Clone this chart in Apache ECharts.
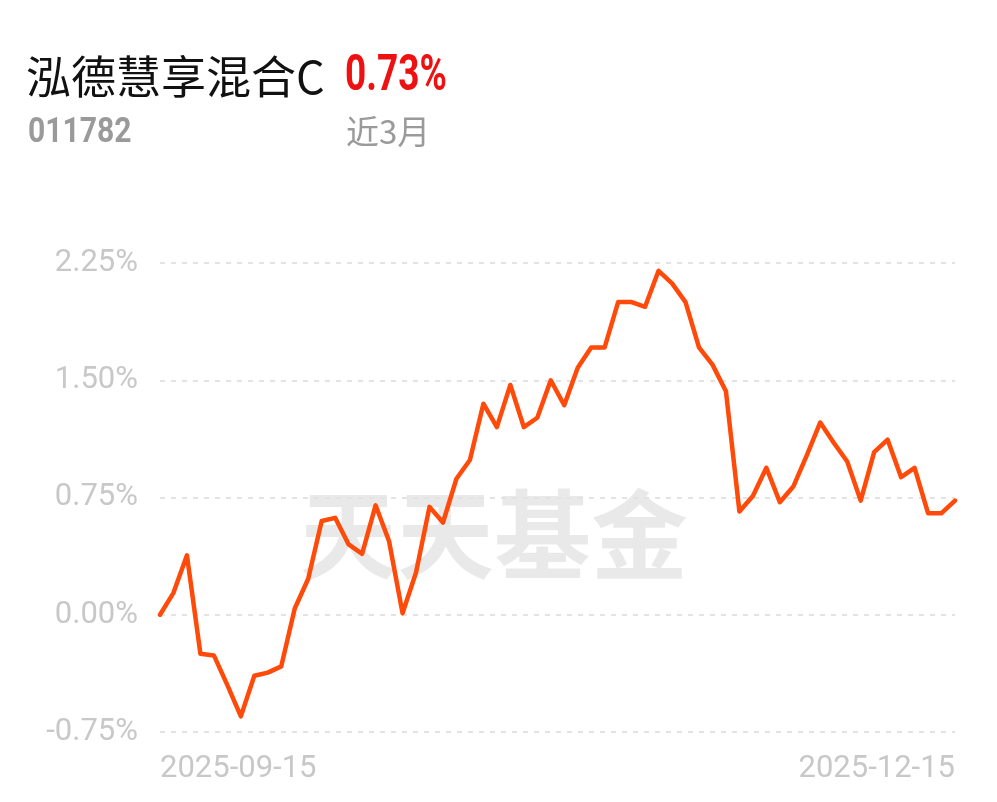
<!DOCTYPE html>
<html><head><meta charset="utf-8">
<script src="https://cdn.jsdelivr.net/npm/echarts@6/dist/echarts.min.js"></script>
<style>html,body{margin:0;padding:0;background:#fff}#c{width:997px;height:802px}</style>
</head><body><div id="c"></div>
<script>
const fundName = '泓德慧享混合C';
const fundCode = '011782';
const periodReturn = '0.73%';
const periodLabel = '近3月';
const yTicks = [-0.75, 0, 0.75, 1.5, 2.25];
const dates = [
 '2025-09-15','2025-09-16','2025-09-17','2025-09-18','2025-09-19',
 '2025-09-22','2025-09-23','2025-09-24','2025-09-25','2025-09-26',
 '2025-09-29','2025-09-30','2025-10-09','2025-10-10',
 '2025-10-13','2025-10-14','2025-10-15','2025-10-16','2025-10-17',
 '2025-10-20','2025-10-21','2025-10-22','2025-10-23','2025-10-24',
 '2025-10-27','2025-10-28','2025-10-29','2025-10-30','2025-10-31',
 '2025-11-03','2025-11-04','2025-11-05','2025-11-06','2025-11-07',
 '2025-11-10','2025-11-11','2025-11-12','2025-11-13','2025-11-14',
 '2025-11-17','2025-11-18','2025-11-19','2025-11-20','2025-11-21',
 '2025-11-24','2025-11-25','2025-11-26','2025-11-27','2025-11-28',
 '2025-12-01','2025-12-02','2025-12-03','2025-12-04','2025-12-05',
 '2025-12-08','2025-12-09','2025-12-10','2025-12-11','2025-12-12',
 '2025-12-15'
];
const returns = [
 0.00, 0.14, 0.38, -0.25, -0.26, -0.45, -0.65, -0.39, -0.37, -0.33,
 0.04, 0.23, 0.60, 0.62, 0.45, 0.39, 0.70, 0.47, 0.01, 0.27,
 0.69, 0.59, 0.87, 0.99, 1.35, 1.20, 1.47, 1.20, 1.26, 1.50,
 1.34, 1.58, 1.71, 1.71, 2.00, 2.00, 1.97, 2.20, 2.12, 2.00,
 1.71, 1.60, 1.43, 0.66, 0.76, 0.94, 0.72, 0.82, 1.02, 1.23,
 1.10, 0.98, 0.73, 1.04, 1.12, 0.88, 0.94, 0.65, 0.65, 0.73
];

const chart = echarts.init(document.getElementById('c'));
const lastIdx = dates.length - 1;
chart.setOption({
  animation: false,
  backgroundColor: '#ffffff',
  grid: {left: 160, right: 42, top: 263, bottom: 70, containLabel: false},
  xAxis: {
    type: 'category', data: dates, boundaryGap: false,
    axisLine: {show: false}, axisTick: {show: false}, splitLine: {show: false},
    axisLabel: {
      interval: 0, margin: 22, color: '#c8c8c8', fontSize: 31, fontFamily: 'Roboto',
      alignMinLabel: 'left', alignMaxLabel: 'right',
      formatter: function (v, i) { return (i === 0 || i === lastIdx) ? v : ''; }
    }
  },
  yAxis: {
    type: 'value', min: yTicks[0], max: yTicks[yTicks.length - 1], interval: 0.75,
    axisLine: {show: false}, axisTick: {show: false},
    axisLabel: {margin: 22, color: '#c8c8c8', fontSize: 31, fontFamily: 'Roboto',
      formatter: function (v) { return v.toFixed(2) + '%'; }},
    splitLine: {show: true, lineStyle: {color: '#e3e3e3', width: 2, type: [5, 6]}}
  },
  series: [{
    type: 'line', data: returns, showSymbol: false, smooth: false, z: 5,
    lineStyle: {color: '#ff4a0a', width: 4.5, join: 'round', cap: 'round'}
  }],
  graphic: [
    {type: 'text', left: 300, top: 486, z: 0, silent: true,
     style: {text: '天天基金', fontSize: 97, fontWeight: 'bold', fontFamily: 'Noto Sans CJK SC', fill: 'rgba(0,0,0,0.085)'}},
    {type: 'text', left: 26, top: 54, style: {text: fundName, fontSize: 45, fontFamily: 'Noto Sans CJK SC', fill: '#111111'}},
    {type: 'text', x: 345, y: 52, scaleX: 0.74, style: {text: periodReturn, fontSize: 50, fontWeight: 'bold', fontFamily: 'Roboto', fill: '#ee1111'}},
    {type: 'text', x: 28, y: 116, scaleX: 0.86, style: {text: fundCode, fontSize: 35, fontWeight: 'bold', fontFamily: 'Roboto', fill: '#9a9a9a'}},
    {type: 'text', left: 346, top: 115, style: {text: periodLabel, fontSize: 33, fontFamily: 'Noto Sans CJK SC', fill: '#9a9a9a'}}
  ]
});
</script></body></html>
